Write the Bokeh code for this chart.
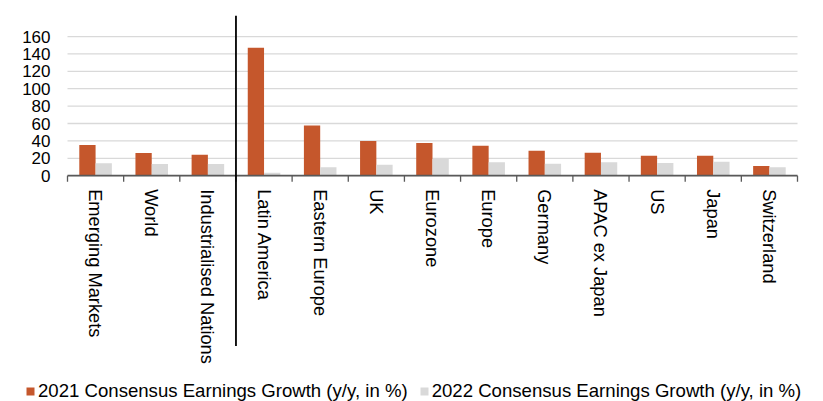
import math
from bokeh.plotting import figure
from bokeh.models import Range1d, ColumnDataSource, Legend, LegendItem
from bokeh.core.properties import value
from bokeh.embed import file_html
from bokeh.resources import INLINE

categories = ["Emerging Markets", "World", "Industrialised Nations", "Latin America",
              "Eastern Europe", "UK", "Eurozone", "Europe", "Germany", "APAC ex Japan",
              "US", "Japan", "Switzerland"]
growth_2021 = [35.2, 26.0, 24.1, 147.0, 57.8, 39.8, 37.5, 34.4, 28.7, 26.4, 23.0, 23.0, 11.1]
growth_2022 = [14.2, 13.4, 13.4, 3.4, 9.6, 12.6, 19.5, 15.3, 13.8, 15.3, 14.5, 16.1, 9.6]
y_ticks = [0, 20, 40, 60, 80, 100, 120, 140, 160]
series_names = ["2021 Consensus Earnings Growth (y/y, in %)",
                "2022 Consensus Earnings Growth (y/y, in %)"]

ORANGE = "#C5572C"
GREY = "#D9D9D9"
FONT = "Liberation Sans"

n = len(categories)
CAT_PX = 56.15  # pixel width of one category
centers = [i + 0.5 for i in range(n)]
bar_w = 0.29
off = 0.145

src = ColumnDataSource(dict(
    x1=[c - off for c in centers], x2=[c + off for c in centers],
    y1=growth_2021, y2=growth_2022, xc=centers, lab=categories,
))

p = figure(width=823, height=401, output_backend="svg", toolbar_location=None,
           x_range=Range1d(-67 / CAT_PX, n + 26 / CAT_PX), y_range=Range1d(-259.7, 184.2),
           x_axis_type=None, y_axis_type=None,
           min_border_left=0, min_border_right=0, min_border_top=15, min_border_bottom=0)
p.outline_line_color = None
p.background_fill_color = "white"
p.xgrid.grid_line_color = None
p.ygrid.grid_line_color = None

# horizontal gridlines
p.segment(x0=[0] * len(y_ticks), y0=y_ticks, x1=[n] * len(y_ticks), y1=y_ticks,
          line_color=GREY, line_width=1.3)

# y tick labels
p.text(x=-17 / CAT_PX, y=y_ticks, text=[str(t) for t in y_ticks], text_align="right",
       text_baseline="middle", text_font=value(FONT), text_font_size="17px",
       text_color="#000000")

r1 = p.vbar(x="x1", top="y1", width=bar_w, source=src, fill_color=ORANGE, line_color=None)
r2 = p.vbar(x="x2", top="y2", width=bar_w, source=src, fill_color=GREY, line_color=None)

# baseline and category tick marks
p.line(x=[0, n], y=[0, 0], line_color="#595959", line_width=1.6)
bounds = list(range(n + 1))
p.segment(x0=bounds, y0=[0] * len(bounds), x1=bounds, y1=[-7] * len(bounds),
          line_color="#595959", line_width=1.3)

# separator between aggregate and regional groups
SEP_AFTER = 3
p.line(x=[SEP_AFTER, SEP_AFTER], y=[-196, 184.2], line_color="#000000", line_width=1.8)

# category labels
p.text(x="xc", y=-15.5, text="lab", source=src, angle=-math.pi / 2,
       text_align="left", text_baseline="middle", text_font=value(FONT),
       text_font_size="18.3px", text_color="#000000")

legend = Legend(items=[LegendItem(label=series_names[0], renderers=[r1]),
                       LegendItem(label=series_names[1], renderers=[r2])],
                orientation="horizontal", location=(25, -1),
                glyph_width=10, glyph_height=10, label_standoff=3, spacing=11,
                padding=0, margin=0, border_line_color=None, background_fill_alpha=0,
                label_text_font=FONT, label_text_font_size="18.6px", label_text_color="#000000",
                label_height=18)
p.add_layout(legend)

open("out.html", "w").write(file_html(p, INLINE))
